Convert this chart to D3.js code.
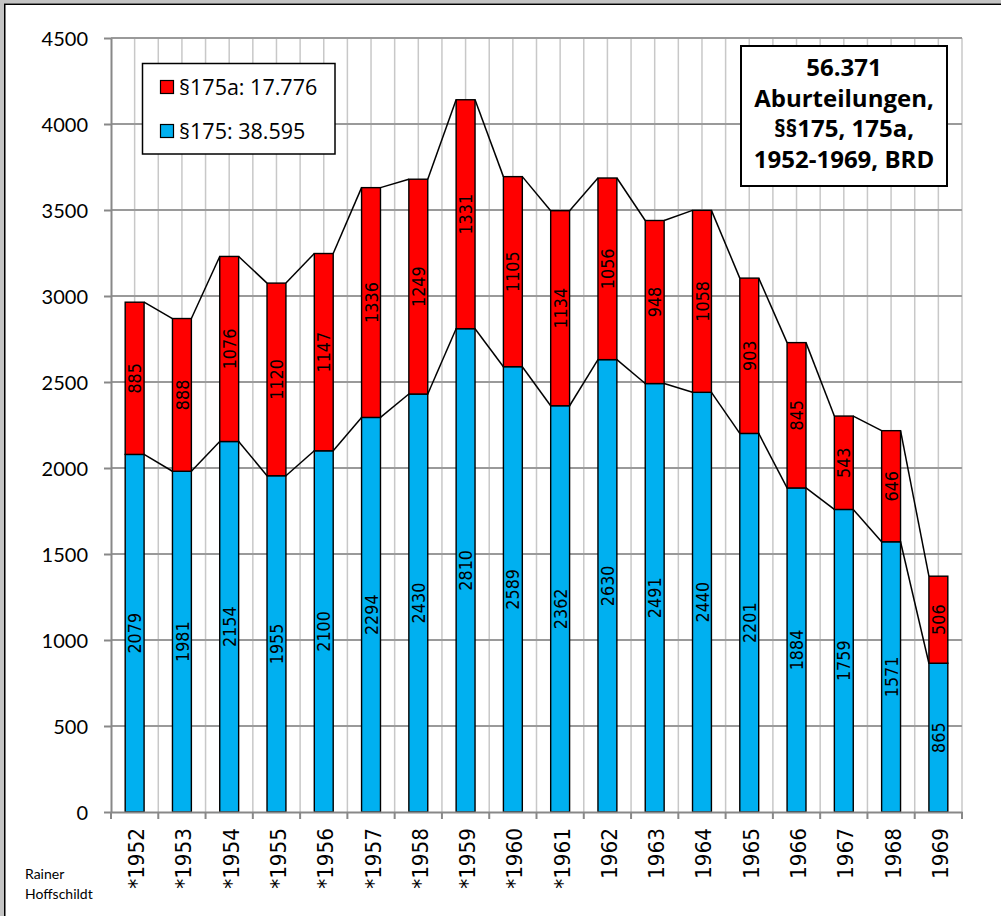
<!DOCTYPE html>
<html>
<head>
<meta charset="utf-8">
<script src="https://cdn.jsdelivr.net/npm/d3@7"></script>
<style>
html,body{margin:0;padding:0;background:#fff;}
svg{display:block;}
</style>
</head>
<body>
<svg id="chart" width="1001" height="916"></svg>
<script>
// ---- data ----
const years = ["*1952","*1953","*1954","*1955","*1956","*1957","*1958","*1959","*1960","*1961",
               "1962","1963","1964","1965","1966","1967","1968","1969"];
const p175  = [2079,1981,2154,1955,2100,2294,2430,2810,2589,2362,2630,2491,2440,2201,1884,1759,1571,865];
const p175a = [885,888,1076,1120,1147,1336,1249,1331,1105,1134,1056,948,1058,903,845,543,646,506];
const yTicks = [0,500,1000,1500,2000,2500,3000,3500,4000,4500];
const legendLabels = ["§175a: 17.776","§175: 38.595"];
const titleLines = ["56.371","Aburteilungen,","§§175, 175a,","1952-1969, BRD"];
const creditLines = ["Rainer","Hoffschildt"];

const colRed = "#ff0000", colBlue = "#00b0f0";
const calibriLike = "Lato, 'Open Sans', sans-serif";
const openSans = "'Open Sans', Lato, sans-serif";
const dejavu = "'DejaVu Sans', sans-serif";

const svg = d3.select("#chart");
const W = 1001, H = 916;

// frame
svg.append("rect").attr("x",0).attr("y",0).attr("width",W).attr("height",H).attr("fill","#fff");
svg.append("rect").attr("x",0).attr("y",0).attr("width",4).attr("height",H).attr("fill","#c4c4c4");
svg.append("rect").attr("x",0).attr("y",0).attr("width",W).attr("height",3.5).attr("fill","#c4c4c4");
svg.append("line").attr("x1",4.75).attr("x2",4.75).attr("y1",4).attr("y2",H).attr("stroke","#000").attr("stroke-width",1.5);
svg.append("line").attr("x1",4).attr("x2",W).attr("y1",4.2).attr("y2",4.2).attr("stroke","#000").attr("stroke-width",1.5);

// scales
const x = d3.scaleBand().domain(years).range([111,962]).paddingInner(0).paddingOuter(0);
const y = d3.scaleLinear().domain([0,4500]).range([812,38]);
const step = x.step();
const bw = step*0.4;
const cx = d => x(d) + step/2;

const totals = p175.map((v,i)=>v+p175a[i]);
const rows = years.map((yr,i)=>({yr, a:p175[i], b:p175a[i], t:totals[i]}));

// vertical grid lines (category boundaries & centres)
const vgrid = [];
years.forEach((yr,i)=>{ if(i>0) vgrid.push(x(yr)); vgrid.push(cx(yr)); });
vgrid.push(x(years[years.length-1])+step);
svg.append("g").selectAll("line").data(vgrid).join("line")
  .attr("x1",d=>d).attr("x2",d=>d).attr("y1",y(4500)).attr("y2",y(0))
  .attr("stroke","#c8c8c8").attr("stroke-width",1.5);

// horizontal grid lines
svg.append("g").selectAll("line").data(yTicks.filter(v=>v>0)).join("line")
  .attr("x1",111).attr("x2",962).attr("y1",d=>y(d)).attr("y2",d=>y(d))
  .attr("stroke","#9a9a9a").attr("stroke-width",2);

// bars
const bars = svg.append("g");
bars.selectAll("rect.blue").data(rows).join("rect").attr("class","blue")
  .attr("x",d=>cx(d.yr)-bw/2).attr("width",bw)
  .attr("y",d=>y(d.a)).attr("height",d=>y(0)-y(d.a))
  .attr("fill",colBlue).attr("stroke","#000").attr("stroke-width",1.4);
bars.selectAll("rect.red").data(rows).join("rect").attr("class","red")
  .attr("x",d=>cx(d.yr)-bw/2).attr("width",bw)
  .attr("y",d=>y(d.t)).attr("height",d=>y(d.a)-y(d.t))
  .attr("fill",colRed).attr("stroke","#000").attr("stroke-width",1.4);

// series lines between bars
const segs = [];
for(let i=0;i<rows.length-1;i++){
  const r0=rows[i], r1=rows[i+1];
  segs.push({x1:cx(r0.yr)+bw/2, y1:y(r0.a), x2:cx(r1.yr)-bw/2, y2:y(r1.a)});
  segs.push({x1:cx(r0.yr)+bw/2, y1:y(r0.t), x2:cx(r1.yr)-bw/2, y2:y(r1.t)});
}
svg.append("g").selectAll("line").data(segs).join("line")
  .attr("x1",d=>d.x1).attr("y1",d=>d.y1).attr("x2",d=>d.x2).attr("y2",d=>d.y2)
  .attr("stroke","#000").attr("stroke-width",1.5);

// value labels
const lab = svg.append("g").attr("font-family",dejavu).attr("font-size",16).attr("fill","#000");
lab.selectAll("text.lb").data(rows).join("text").attr("class","lb")
  .attr("text-anchor","middle").attr("dy","0.36em")
  .attr("transform",d=>`translate(${cx(d.yr)},${(y(0)+y(d.a))/2}) scale(1.15,1) rotate(-90)`)
  .text(d=>d.a);
lab.selectAll("text.lr").data(rows).join("text").attr("class","lr")
  .attr("text-anchor","middle").attr("dy","0.36em")
  .attr("transform",d=>`translate(${cx(d.yr)},${(y(d.a)+y(d.t))/2}) scale(1.15,1) rotate(-90)`)
  .text(d=>d.b);

// y axis
const yAxis = svg.append("g").attr("transform","translate(111,0)")
  .call(d3.axisLeft(y).tickValues(yTicks).tickFormat(d3.format("d")).tickSize(7).tickPadding(16).tickSizeOuter(0));
yAxis.select(".domain").attr("stroke","#888").attr("stroke-width",2);
yAxis.selectAll(".tick line").attr("stroke","#888").attr("stroke-width",2);
yAxis.selectAll(".tick text").attr("font-family",calibriLike).attr("font-size",20).attr("fill","#000").attr("dy","0.36em");

// x axis
const xAxis = svg.append("g").attr("transform",`translate(0,${y(0)})`)
  .call(d3.axisBottom(x).tickSize(0).tickSizeOuter(0));
xAxis.select(".domain").attr("stroke","#888").attr("stroke-width",2);
xAxis.selectAll(".tick text")
  .attr("font-family",dejavu).attr("font-size",20).attr("fill","#000")
  .attr("x",null).attr("y",null).attr("dy","0.36em").attr("text-anchor","end")
  .attr("transform","translate(2,16) scale(1.04,1) rotate(-90)");
const bounds = years.map(yr=>x(yr)).concat([x(years[years.length-1])+step]);
xAxis.append("g").selectAll("line").data(bounds).join("line")
  .attr("x1",d=>d).attr("x2",d=>d).attr("y1",0).attr("y2",7)
  .attr("stroke","#888").attr("stroke-width",2);

// legend
const lg = svg.append("g");
lg.append("rect").attr("x",142.5).attr("y",63.5).attr("width",192.5).attr("height",90.5)
  .attr("fill","#fff").attr("stroke","#000").attr("stroke-width",1.5);
const lgItems = [{label:legendLabels[0], c:colRed, yy:87},{label:legendLabels[1], c:colBlue, yy:131}];
lg.selectAll("rect.sw").data(lgItems).join("rect").attr("class","sw")
  .attr("x",160.5).attr("y",d=>d.yy-6.5).attr("width",13).attr("height",13)
  .attr("fill",d=>d.c).attr("stroke","#000").attr("stroke-width",1.2);
lg.selectAll("text").data(lgItems).join("text")
  .attr("x",179).attr("y",d=>d.yy).attr("dy","0.36em")
  .attr("font-family",openSans).attr("font-size",21.5).attr("fill","#000")
  .text(d=>d.label);

// title box
const tb = svg.append("g");
tb.append("rect").attr("x",741).attr("y",46).attr("width",206).attr("height",140)
  .attr("fill","#fff").attr("stroke","#000").attr("stroke-width",2);
tb.selectAll("text").data(titleLines).join("text")
  .attr("x",844).attr("y",(d,i)=>76+i*30.5).attr("text-anchor","middle")
  .attr("font-family",openSans).attr("font-weight","bold").attr("font-size",24).attr("fill","#000")
  .text(d=>d);

// credit
svg.append("g").selectAll("text").data(creditLines).join("text")
  .attr("x",25).attr("y",(d,i)=>879+i*20)
  .attr("font-family",calibriLike).attr("font-size",14).attr("fill","#000")
  .text(d=>d);
</script>
</body>
</html>
